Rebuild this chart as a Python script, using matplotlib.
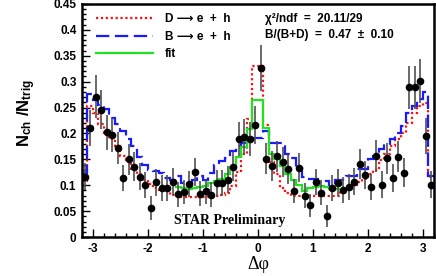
import numpy as np
import matplotlib
matplotlib.use('Agg')
import matplotlib.pyplot as plt

plt.rcParams['font.family'] = ['Liberation Sans', 'DejaVu Sans']
plt.rcParams['axes.unicode_minus'] = False
plt.rcParams['mathtext.fontset'] = 'custom'
plt.rcParams['mathtext.rm'] = 'Liberation Sans:bold'
plt.rcParams['mathtext.it'] = 'Liberation Sans:bold'
plt.rcParams['mathtext.bf'] = 'Liberation Sans:bold'

# bin edges (0.1 rad bins) and centres
edges = np.round(np.arange(-3.2, 3.2001, 0.1), 2)
dphi = np.round(edges[:-1] + 0.05, 2)

# data points
data_y = [0.116, 0.210, 0.271, 0.246, 0.202, 0.197, 0.172, 0.114, 0.150, 0.136,
          0.116, 0.100, 0.056, 0.106, 0.094, 0.094, 0.107, 0.083, 0.087, 0.102,
          0.125, 0.084, 0.088, 0.082, 0.104, 0.104, 0.111, 0.136, 0.190, 0.193,
          0.189, 0.216, 0.326, 0.151, 0.138, 0.156, 0.144, 0.131, 0.089, 0.134,
          0.080, 0.061, 0.106, 0.086, 0.040, 0.095, 0.105, 0.090, 0.096, 0.107,
          0.141, 0.120, 0.097, 0.157, 0.101, 0.152, 0.114, 0.155, 0.124, 0.289,
          0.289, 0.301, 0.195, 0.101]
data_err = [0.026, 0.035, 0.042, 0.038, 0.034, 0.033, 0.031, 0.026, 0.030, 0.028,
            0.026, 0.025, 0.024, 0.026, 0.025, 0.025, 0.026, 0.024, 0.024, 0.025,
            0.027, 0.024, 0.024, 0.024, 0.025, 0.025, 0.026, 0.028, 0.033, 0.034,
            0.033, 0.036, 0.045, 0.030, 0.029, 0.030, 0.029, 0.028, 0.024, 0.028,
            0.024, 0.023, 0.025, 0.024, 0.021, 0.025, 0.026, 0.025, 0.025, 0.026,
            0.029, 0.027, 0.025, 0.031, 0.026, 0.030, 0.027, 0.030, 0.028, 0.042,
            0.042, 0.043, 0.034, 0.026]

# D -> e + h template
d_y = [0.108, 0.253, 0.240, 0.218, 0.200, 0.190, 0.176, 0.156, 0.148, 0.130,
       0.121, 0.111, 0.103, 0.095, 0.090, 0.088, 0.082, 0.079, 0.078, 0.078,
       0.078, 0.079, 0.078, 0.079, 0.079, 0.082, 0.086, 0.098, 0.125, 0.160,
       0.228, 0.330, 0.330, 0.216, 0.144, 0.121, 0.095, 0.085, 0.080, 0.079,
       0.079, 0.079, 0.079, 0.079, 0.079, 0.079, 0.080, 0.088, 0.093, 0.100,
       0.106, 0.113, 0.121, 0.130, 0.148, 0.160, 0.175, 0.190, 0.200, 0.220,
       0.240, 0.252, 0.258, 0.115]

# B -> e + h template
b_y = [0.124, 0.277, 0.265, 0.255, 0.248, 0.230, 0.218, 0.205, 0.189, 0.176,
       0.155, 0.140, 0.130, 0.128, 0.124, 0.114, 0.111, 0.117, 0.105, 0.105,
       0.110, 0.117, 0.110, 0.124, 0.140, 0.147, 0.153, 0.166, 0.176, 0.182,
       0.190, 0.192, 0.192, 0.204, 0.182, 0.182, 0.182, 0.161, 0.152, 0.134,
       0.115, 0.113, 0.113, 0.108, 0.108, 0.097, 0.111, 0.111, 0.117, 0.117,
       0.132, 0.132, 0.150, 0.157, 0.169, 0.179, 0.189, 0.200, 0.214, 0.240,
       0.253, 0.266, 0.279, 0.118]

# fit, only over |dphi| < 1.5
fit_edges = np.round(np.arange(-1.5, 1.5001, 0.1), 2)
fit_y = [0.097, 0.094, 0.092, 0.094, 0.097, 0.099, 0.104, 0.108, 0.112, 0.122,
         0.136, 0.155, 0.174, 0.208, 0.265, 0.265, 0.211, 0.160, 0.150, 0.138,
         0.121, 0.111, 0.101, 0.089, 0.095, 0.097, 0.098, 0.096, 0.092, 0.093]

yticks = [0, 0.05, 0.1, 0.15, 0.2, 0.25, 0.3, 0.35, 0.4, 0.45]
ytick_labels = ['0', '0.05', '0.1', '0.15', '0.2', '0.25', '0.3', '0.35', '0.4', '0.45']
xticks = [-3, -2, -1, 0, 1, 2, 3]
xtick_labels = ['-3', '-2', '-1', '0', '1', '2', '3']

fig = plt.figure(figsize=(4.36, 2.76), dpi=100)
ax = fig.add_axes([0.188, 0.141, 0.807, 0.845])

ax.stairs(d_y, edges, baseline=None, color='#ff1010', lw=1.6,
          linestyle=(0, (1, 1.2)), label='D \u27f6 e  +  h', zorder=2)
ax.stairs(b_y, edges, baseline=None, color='#1a1aff', lw=1.6,
          linestyle=(0, (6, 2.5)), label='B \u27f6 e  +  h', zorder=2)
ax.stairs(fit_y, fit_edges, baseline=None, color='#22e022', lw=1.6,
          label='fit', zorder=3)

ax.errorbar(dphi, data_y, yerr=data_err, fmt='o', color='black', ms=4.5,
            ecolor='#505050', elinewidth=1.2, capsize=0, zorder=4)

ax.set_xlim(-3.2, 3.2)
ax.set_ylim(0, 0.45)
ax.set_xticks(xticks)
ax.set_xticklabels(xtick_labels)
ax.set_yticks(yticks)
ax.set_yticklabels(ytick_labels)
ax.set_xticks(np.arange(-3.2, 3.21, 0.2), minor=True)
ax.set_yticks(np.arange(0, 0.451, 0.01), minor=True)
ax.tick_params(which='both', direction='in', top=False, right=False)
ax.tick_params(which='major', length=6, width=1, labelsize=8.5, pad=4)
ax.tick_params(which='minor', length=3, width=1)
for lab in ax.get_xticklabels() + ax.get_yticklabels():
    lab.set_fontweight('bold')
for s in ax.spines.values():
    s.set_linewidth(1.8)

ax.set_xlabel('\u0394\u03c6', family='Liberation Serif', fontsize=13, labelpad=1)
ax.set_ylabel(r'$\mathbf{N_{ch}\ /N_{trig}}$', fontsize=12)
ax.yaxis.set_label_coords(-0.125, 0.53)

leg = ax.legend(loc='upper left', bbox_to_anchor=(0.01, 1.005), frameon=False,
                handlelength=4.8, handletextpad=1.0, labelspacing=0.45,
                prop={'weight': 'bold', 'size': 8.5})

ax.text(0.52, 0.935, '\u03c7\u00b2/ndf  =  20.11/29', transform=ax.transAxes,
        fontsize=8.5, fontweight='bold', va='center')
ax.text(0.52, 0.865, 'B/(B+D)  =  0.47  \u00b1  0.10', transform=ax.transAxes,
        fontsize=8.5, fontweight='bold', va='center')
ax.text(0.42, 0.072, 'STAR Preliminary', transform=ax.transAxes,
        family='Liberation Serif', fontsize=10, fontweight='bold', ha='center', va='center')

fig.savefig('out.png', dpi=100)
